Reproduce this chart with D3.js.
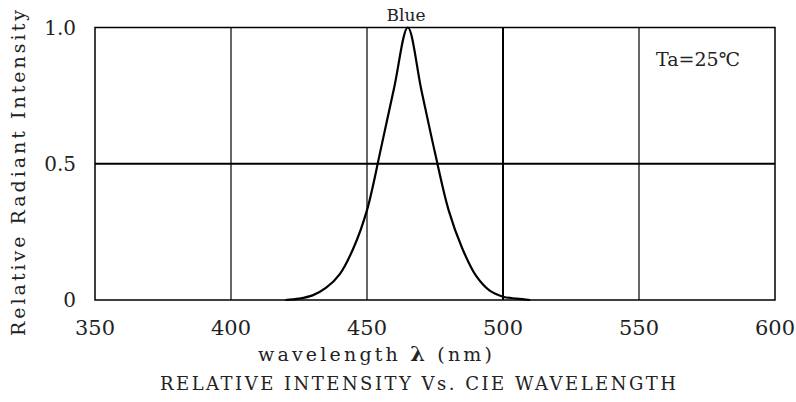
<!DOCTYPE html>
<html>
<head>
<meta charset="utf-8">
<script src="https://cdn.jsdelivr.net/npm/d3@7"></script>
<style>
  body { margin: 0; background: #fff; }
  svg text { font-family: "DejaVu Serif", "Liberation Serif", serif; fill: #222; }
</style>
</head>
<body>
<div id="chart"></div>
<script>
// spectrum
const wavelength = [420, 425, 430, 435, 440, 445, 450, 455, 460, 465, 470, 475, 480, 485, 490, 495, 500, 505, 510];
const intensity  = [0.0, 0.005, 0.017, 0.045, 0.095, 0.19, 0.33, 0.55, 0.78, 1.0, 0.77, 0.54, 0.33, 0.19, 0.09, 0.035, 0.012, 0.005, 0.0];
const xTicks = [350, 400, 450, 500, 550, 600];
const yTicks = [0, 0.5, 1.0];
const yTickLabels = ["0", "0.5", "1.0"];

const W = 796, H = 402;
const margin = {top: 27.5, right: 21, bottom: 102, left: 95};
const width = W - margin.left - margin.right,
      height = H - margin.top - margin.bottom;

const svg = d3.select("#chart").append("svg")
    .attr("width", W)
    .attr("height", H);

const g = svg.append("g")
    .attr("transform", "translate(" + margin.left + "," + margin.top + ")");

const x = d3.scaleLinear().domain([350, 600]).range([0, width]);
const y = d3.scaleLinear().domain([0, 1]).range([height, 0]);

// grid
g.selectAll(".vgrid")
    .data(xTicks.slice(1, -1))
    .enter().append("line")
    .attr("x1", d => x(d)).attr("x2", d => x(d))
    .attr("y1", 0).attr("y2", height)
    .attr("stroke", "#000")
    .attr("stroke-width", d => d == 500 ? 2 : 1.2);

g.append("line")
    .attr("x1", 0).attr("x2", width)
    .attr("y1", y(0.5)).attr("y2", y(0.5))
    .attr("stroke", "#000").attr("stroke-width", 2);

// frame
g.append("rect")
    .attr("width", width).attr("height", height)
    .attr("fill", "none").attr("stroke", "#000").attr("stroke-width", 1.5);

// curve
const pts = wavelength.map((w, i) => [w, intensity[i]]);
g.append("path")
    .datum(pts)
    .attr("fill", "none")
    .attr("stroke", "#000")
    .attr("stroke-width", 2.2)
    .attr("stroke-linejoin", "round")
    .attr("d", d3.line().x(d => x(d[0])).y(d => y(d[1])).curve(d3.curveCatmullRom.alpha(0.5)));

// tick labels
g.selectAll(".xt")
    .data(xTicks)
    .enter().append("text")
    .attr("x", d => x(d))
    .attr("y", height + 35)
    .attr("text-anchor", "middle")
    .attr("textLength", 40)
    .attr("lengthAdjust", "spacingAndGlyphs")
    .style("font-size", "20px")
    .text(d => d);

g.selectAll(".yt")
    .data(yTicks)
    .enter().append("text")
    .attr("x", -19)
    .attr("y", d => y(d) + 7)
    .attr("text-anchor", "end")
    .style("font-size", "20px")
    .text((d, i) => yTickLabels[i]);

// axis titles
const xt = svg.append("text")
    .attr("x", 258)
    .attr("y", 361)
    .attr("textLength", 234)
    .attr("lengthAdjust", "spacing")
    .style("font-size", "19px");
xt.append("tspan").text("wavelength ");
xt.append("tspan").style("font-weight", "bold").style("font-size", "21px").text("λ");
xt.append("tspan").text(" (nm)");

svg.append("text")
    .attr("transform", "translate(25,173) rotate(-90)")
    .attr("text-anchor", "middle")
    .attr("textLength", 326)
    .attr("lengthAdjust", "spacing")
    .style("font-size", "19px")
    .text("Relative Radiant Intensity");

svg.append("text")
    .attr("x", 160)
    .attr("y", 390)
    .attr("textLength", 516)
    .attr("lengthAdjust", "spacing")
    .style("font-size", "18px")
    .text("RELATIVE INTENSITY Vs. CIE WAVELENGTH");

// annotations
svg.append("text")
    .attr("x", 406)
    .attr("y", 21)
    .attr("text-anchor", "middle")
    .style("font-size", "17px")
    .text("Blue");

svg.append("text")
    .attr("x", 698)
    .attr("y", 66)
    .attr("text-anchor", "middle")
    .style("font-size", "19px")
    .text("Ta=25℃");
</script>
</body>
</html>
